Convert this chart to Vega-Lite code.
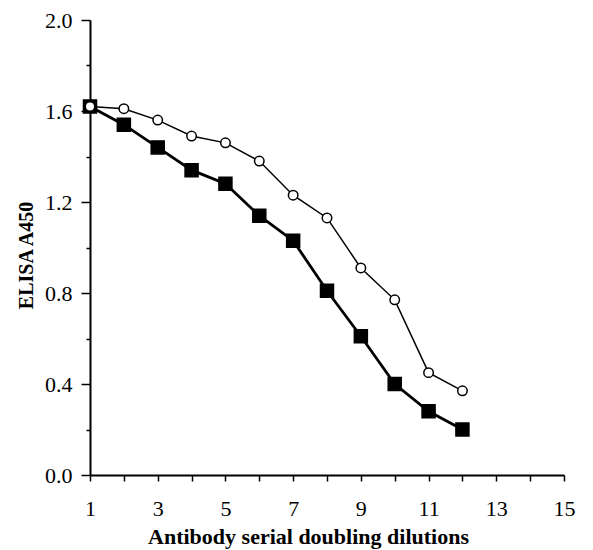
{
  "$schema": "https://vega.github.io/schema/vega-lite/v6.json",
  "width": 474,
  "height": 455,
  "autosize": "none",
  "padding": {"left": 90, "top": 20, "right": 29, "bottom": 75},
  "background": "white",
  "config": {
    "view": {"stroke": null},
    "font": "Liberation Serif",
    "axis": {"grid": false, "domainColor": "black", "tickColor": "black", "labelColor": "black", "titleColor": "black", "labelFont": "Liberation Serif", "titleFont": "Liberation Serif"}
  },
  "data": {
    "values": [
      {"series": "Lactoperoxidase method McAb", "dilution": 1, "a450": 1.62},
      {"series": "Lactoperoxidase method McAb", "dilution": 2, "a450": 1.54},
      {"series": "Lactoperoxidase method McAb", "dilution": 3, "a450": 1.44},
      {"series": "Lactoperoxidase method McAb", "dilution": 4, "a450": 1.34},
      {"series": "Lactoperoxidase method McAb", "dilution": 5, "a450": 1.28},
      {"series": "Lactoperoxidase method McAb", "dilution": 6, "a450": 1.14},
      {"series": "Lactoperoxidase method McAb", "dilution": 7, "a450": 1.03},
      {"series": "Lactoperoxidase method McAb", "dilution": 8, "a450": 0.81},
      {"series": "Lactoperoxidase method McAb", "dilution": 9, "a450": 0.61},
      {"series": "Lactoperoxidase method McAb", "dilution": 10, "a450": 0.40},
      {"series": "Lactoperoxidase method McAb", "dilution": 11, "a450": 0.28},
      {"series": "Lactoperoxidase method McAb", "dilution": 12, "a450": 0.20},
      {"series": "Un-iodinated McAb", "dilution": 1, "a450": 1.62},
      {"series": "Un-iodinated McAb", "dilution": 2, "a450": 1.61},
      {"series": "Un-iodinated McAb", "dilution": 3, "a450": 1.56},
      {"series": "Un-iodinated McAb", "dilution": 4, "a450": 1.49},
      {"series": "Un-iodinated McAb", "dilution": 5, "a450": 1.46},
      {"series": "Un-iodinated McAb", "dilution": 6, "a450": 1.38},
      {"series": "Un-iodinated McAb", "dilution": 7, "a450": 1.23},
      {"series": "Un-iodinated McAb", "dilution": 8, "a450": 1.13},
      {"series": "Un-iodinated McAb", "dilution": 9, "a450": 0.91},
      {"series": "Un-iodinated McAb", "dilution": 10, "a450": 0.77},
      {"series": "Un-iodinated McAb", "dilution": 11, "a450": 0.45},
      {"series": "Un-iodinated McAb", "dilution": 12, "a450": 0.37}
    ]
  },
  "encoding": {
    "x": {
      "field": "dilution", "type": "quantitative",
      "scale": {"domain": [1, 15], "nice": false, "zero": false},
      "axis": {
        "values": [1,2,3,4,5,6,7,8,9,10,11,12,13,14,15],
        "labelExpr": "datum.value % 2 == 1 ? datum.label : ''",
        "tickSize": 6, "tickWidth": 1.5, "domainWidth": 2,
        "labelFontSize": 22, "labelPadding": 17, "labelFlush": false,
        "title": "Antibody serial doubling dilutions",
        "titleFontSize": 22, "titleFontWeight": "bold", "titlePadding": 7,
        "titleX": 218
      }
    },
    "y": {
      "field": "a450", "type": "quantitative",
      "scale": {"domain": [0, 2], "nice": false},
      "axis": {
        "values": [0,0.2,0.4,0.6,0.8,1.0,1.2,1.4,1.6,1.8,2.0],
        "labelExpr": "round(datum.value*10) % 4 == 0 ? format(datum.value, '.1f') : ''",
        "tickSize": {"condition": {"test": "round(datum.value*10) % 4 == 0", "value": 9}, "value": 4},
        "tickWidth": 1.5, "domainWidth": 2,
        "labelFontSize": 22, "labelPadding": 9, "labelFlush": false,
        "title": "ELISA A450",
        "titleFontSize": 20, "titleFontWeight": "bold", "titlePadding": 8,
        "titleY": 235
      }
    }
  },
  "layer": [
    {
      "transform": [{"filter": "datum.series == 'Un-iodinated McAb'"}],
      "mark": {"type": "line", "color": "black", "strokeWidth": 1.5},
      "encoding": {}
    },
    {
      "transform": [{"filter": "datum.series == 'Lactoperoxidase method McAb'"}],
      "mark": {"type": "line", "color": "black", "strokeWidth": 2.8},
      "encoding": {}
    },
    {
      "mark": {"type": "point", "filled": true, "stroke": "black", "strokeWidth": 1.5, "opacity": 1},
      "encoding": {
        "shape": {
          "field": "series", "type": "nominal",
          "scale": {"domain": ["Un-iodinated McAb", "Lactoperoxidase method McAb"], "range": ["circle", "square"]},
          "legend": {
            "title": null, "orient": "none", "legendX": 170, "legendY": 21,
            "padding": 0, "labelOffset": 42, "rowPadding": 4,
            "symbolStrokeColor": "black", "symbolStrokeWidth": 1.5, "symbolOpacity": 1,
            "labelFontSize": 20, "labelFont": "Liberation Serif", "labelColor": "black", "labelLimit": 400,
            "encode": {
              "symbols": {
                "shape": {"condition": {"test": "datum.value === 'Un-iodinated McAb'", "value": "M-7.4,0H-1M1,0H6.4M1,0A1,1 0 1 1 -1,0A1,1 0 1 1 1,0"}, "value": "M-7.2,0H6.6M-1.2,-1.2H1.2V1.2H-1.2Z"},
                "strokeWidth": {"condition": {"test": "datum.value === 'Un-iodinated McAb'", "value": 1.5}, "value": 2},
                "size": {"value": 100}
              }
            }
          }
        },
        "fill": {
          "field": "series", "type": "nominal",
          "scale": {"domain": ["Un-iodinated McAb", "Lactoperoxidase method McAb"], "range": ["white", "black"]},
          "legend": {
            "title": null, "orient": "none", "legendX": 170, "legendY": 21,
            "padding": 0, "labelOffset": 42, "rowPadding": 4,
            "symbolStrokeColor": "black", "symbolStrokeWidth": 1.5, "symbolOpacity": 1,
            "labelFontSize": 20, "labelFont": "Liberation Serif", "labelColor": "black", "labelLimit": 400,
            "encode": {
              "symbols": {
                "shape": {"condition": {"test": "datum.value === 'Un-iodinated McAb'", "value": "M-7.4,0H-1M1,0H6.4M1,0A1,1 0 1 1 -1,0A1,1 0 1 1 1,0"}, "value": "M-7.2,0H6.6M-1.2,-1.2H1.2V1.2H-1.2Z"},
                "strokeWidth": {"condition": {"test": "datum.value === 'Un-iodinated McAb'", "value": 1.5}, "value": 2},
                "size": {"value": 100}
              }
            }
          }
        },
        "size": {
          "field": "series", "type": "nominal",
          "scale": {"domain": ["Un-iodinated McAb", "Lactoperoxidase method McAb"], "range": [90, 169]},
          "legend": null
        }
      }
    }
  ]
}
